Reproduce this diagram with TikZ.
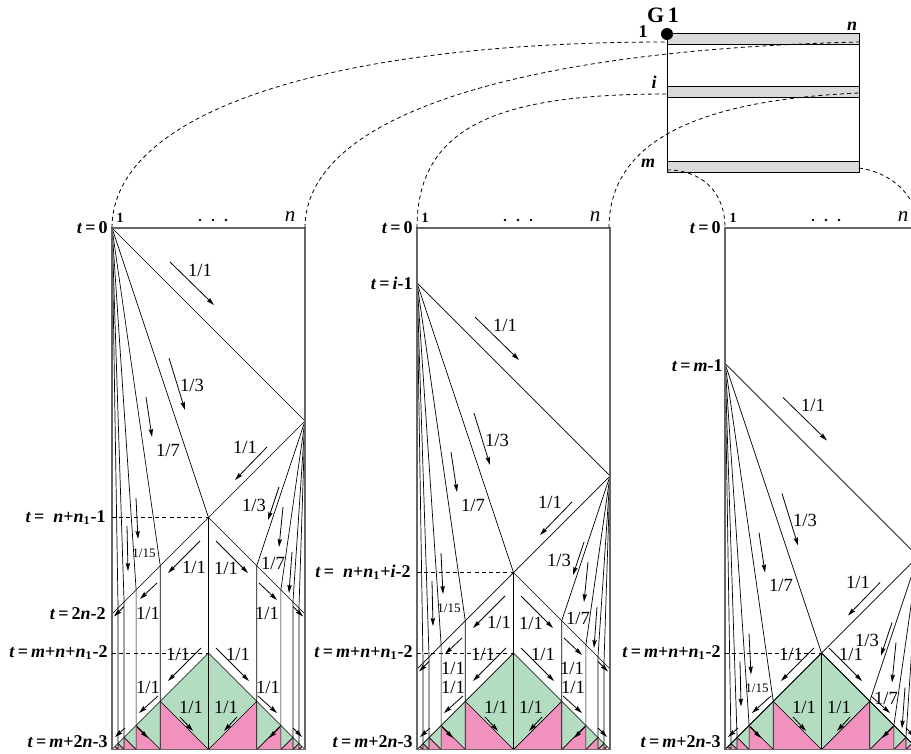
\documentclass[tikz,border=0pt]{standalone}
\usepackage{fontspec}
\setmainfont{Liberation Serif}
\usetikzlibrary{arrows.meta}
\definecolor{mint}{HTML}{B3DCC1}
\definecolor{rose}{HTML}{F091BE}
\definecolor{band}{HTML}{D9D9D9}
\tikzset{
  wall/.style={draw=black!60,line width=0.75pt},
  ray/.style={line width=0.35pt},
  flow/.style={line width=0.4pt,-{Stealth[length=4pt,width=2.2pt,inset=0.6pt]}},
  rate/.style={font=\fontsize{9.3}{10}\selectfont,inner sep=0pt},
  small rate/.style={font=\fontsize{6.5}{7}\selectfont,inner sep=0pt},
  tlab/.style={font=\fontsize{9}{10}\selectfont\bfseries,anchor=east,inner sep=0pt},
  link/.style={dash pattern=on 2pt off 1.6pt,line width=0.4pt},
}
\begin{document}
\begin{tikzpicture}[x=0.5pt,y=-0.5pt]
\useasboundingbox (0,0) rectangle (911,754);
\clip (0,0) rectangle (911,754);

% the three time diagrams
\foreach \L/\S/\c in {112/228/1,417/283/1,725/363.5/0}{
\begin{scope}[shift={(\L,0)}]
\pgfmathsetmacro\Q{\S+193}
\pgfmathsetmacro\C{\S+289.5}
\pgfmathsetmacro\D{\S+386}
\foreach \a in {48.25,24.125,12.0625,6.03125,3.015625}{
  \fill[mint] ({2*\a},{749.5-2*\a}) -- (\a,{749.5-\a}) -- ({2*\a},749.5) -- cycle
              ({193-2*\a},{749.5-2*\a}) -- ({193-\a},{749.5-\a}) -- ({193-2*\a},749.5) -- cycle;
  \fill[rose] (\a,{749.5-\a}) -- (\a,749.5) -- ({2*\a},749.5) -- cycle
              ({193-\a},{749.5-\a}) -- ({193-\a},749.5) -- ({193-2*\a},749.5) -- cycle;
  \draw[ray] (\a,{749.5-\a}) -- ({2*\a},749.5) ({193-\a},{749.5-\a}) -- ({193-2*\a},749.5);
}
\draw[ray] (0,749.5) -- (96.5,653) -- (193,749.5);
\draw[ray] (0,\S) -- (193,\Q) -- (0,\D) (96.5,\C) -- (193,\D);
\foreach \a in {96.5,48.25,24.125,12.0625,6.03125}
  \draw[ray] (0,\S) -- (\a,{\S+386-\a}) -- (\a,749.5);
\foreach \a in {48.25,24.125,12.0625,6.03125}
  \draw[ray] (193,\Q) -- ({193-\a},{\S+386-\a}) -- ({193-\a},749.5);
\draw[wall] (0,749.5) -- (0,228) -- (193,228) -- (193,749.5) -- cycle;
\draw[link] (0,653) -- (96.5,653);
\node[font=\fontsize{7}{8}\selectfont\bfseries] (one\L) at (8,218) {1};
\foreach \d in {88,101,114} \fill (\d,220) circle (0.7pt);
\node[font=\fontsize{10.5}{11}\selectfont\itshape] (last\L) at (178,217) {n};

% rates of the first wave
\draw[flow] (58,{\S+34}) -- (102,{\S+77});
\node[rate] (p\L) at (88,{\S+42}) {1/1};
\draw[flow] (57,{\S+130}) -- (73,{\S+182});
\node[rate] (q\L) at (80,{\S+157}) {1/3};
\draw[flow] (34,{\S+169}) -- (40,{\S+209});
\node[rate] (r\L) at (56,{\S+222}) {1/7};
\draw[flow] (24,{\S+270}) -- (26,{\S+311});
\draw[flow] (15,{\S+298}) -- (16,{\S+343});
\node[small rate] (s\L) at (32,{\S+325}) {1/15};
\draw[flow] (155,{\S+219}) -- (123,{\S+252});
\node[rate] (u\L) at (133,{\S+219}) {1/1};
\draw[flow] (167,{\S+259}) -- (156,{\S+292});
\node[rate] (v\L) at (142,{\S+277}) {1/3};
\draw[flow] (171,{\S+279}) -- (167,{\S+319});
\draw[flow] (180,{\S+324}) -- (177,{\S+365});
\node[rate] (w\L) at (161,{\S+335}) {1/7};

% rates after the crossing
\ifnum\c=1
\draw[link] (0,\C) -- (96.5,\C);
\draw[flow] (88,{\C+23.5}) -- (56,{\C+55.5});
\node[rate] (x\L) at (82,{\C+50}) {1/1};
\draw[flow] (104,{\C+23.5}) -- (136,{\C+55.5});
\node[rate] (y\L) at (114,{\C+51}) {1/1};
\draw[flow] (45,{\C+65.5}) -- (28,{\C+81.5});
\draw[flow] (12,{\C+89}) -- (2,{\C+99});
\node[rate] (z\L) at (36,{\C+96}) {1/1};
\draw[flow] (147,{\C+65.5}) -- (165,{\C+82.5});
\draw[flow] (181,{\C+89}) -- (191,{\C+99});
\node[rate] (zz\L) at (155,{\C+96}) {1/1};
\node[rate] (d\L) at (36,687) {1/1};
\node[rate] (e\L) at (156,687) {1/1};
\fi

% rates in the last wave
\draw[flow] (89,648) -- (56,681);
\node[rate] (a\L) at (66,654) {1/1};
\draw[flow] (104,648) -- (137,681);
\node[rate] (b\L) at (126,654) {1/1};
\draw[flow] (46,696) -- (27,713);
\draw[flow] (13,728) -- (3,737);
\draw[flow] (146,696) -- (165,713);
\draw[flow] (181,728) -- (190,737);
\draw[flow] (68,717) -- (81,731);
\node[rate] (f\L) at (79,707) {1/1};
\draw[flow] (125,717) -- (112,731);
\node[rate] (h\L) at (114,707) {1/1};
\draw[flow] (25,727) -- (36,738);
\draw[flow] (168,727) -- (157,738);
\end{scope}
}

% time labels
\node[tlab] (t0a) at (108,228) {\textit{t}\,=\,0};
\node[tlab] (tca) at (106,517.5) {\textit{t}\,=\ \ \textit{n}+\textit{n}\textsubscript{1}-1};
\node[tlab] (tda) at (106,614) {\textit{t}\,=\,2\textit{n}-2};
\node[tlab] (tea) at (108,653) {\textit{t}\,=\,\textit{m}+\textit{n}+\textit{n}\textsubscript{1}-2};
\node[tlab] (tfa) at (108,742) {\textit{t}\,=\,\textit{m}+2\textit{n}-3};
\node[tlab] (t0b) at (413,228) {\textit{t}\,=\,0};
\node[tlab] (tsb) at (413,283) {\textit{t}\,=\,\textit{i}-1};
\node[tlab] (tcb) at (411,572) {\textit{t}\,=\ \ \textit{n}+\textit{n}\textsubscript{1}+\textit{i}-2};
\node[tlab] (teb) at (413,653) {\textit{t}\,=\,\textit{m}+\textit{n}+\textit{n}\textsubscript{1}-2};
\node[tlab] (tfb) at (413,742) {\textit{t}\,=\,\textit{m}+2\textit{n}-3};
\node[tlab] (t0c) at (721,228) {\textit{t}\,=\,0};
\node[tlab] (tsc) at (723,366) {\textit{t}\,=\,\textit{m}-1};
\node[tlab] (tec) at (721,653) {\textit{t}\,=\,\textit{m}+\textit{n}+\textit{n}\textsubscript{1}-2};
\node[tlab] (tfc) at (721,742) {\textit{t}\,=\,\textit{m}+2\textit{n}-3};

% the grid G1
\foreach \y in {34,87,162} \filldraw[fill=band,line width=0.5pt] (667,\y) rectangle (859,{\y+11});
\draw[line width=0.5pt] (667,34) -- (667,173) (859,34) -- (859,173);
\fill (667,34) circle (3pt);
\node[font=\fontsize{11}{12}\selectfont\bfseries] (g1) at (663,15) {G\,1};
\node[font=\fontsize{9}{10}\selectfont\bfseries] (row1) at (643,32) {1};
\node[font=\fontsize{9}{10}\selectfont\bfseries\itshape] (coln) at (852,26) {n};
\node[font=\fontsize{9}{10}\selectfont\bfseries\itshape] (rowi) at (654,82) {i};
\node[font=\fontsize{9}{10}\selectfont\bfseries\itshape] (rowm) at (648,163) {m};

% rows to diagrams
\draw[link] (112,228) .. controls (112,115) and (320,42) .. (667,42);
\draw[link] (305,228) .. controls (305,115) and (520,50) .. (859,42);
\draw[link] (417,228) .. controls (417,125) and (500,94) .. (667,94);
\draw[link] (609,228) .. controls (609,140) and (700,100) .. (859,93);
\draw[link] (667,170) .. controls (700,170) and (725,190) .. (725,228);
\draw[link] (859,168) .. controls (890,172) and (918,195) .. (918,228);
\end{tikzpicture}
\end{document}
